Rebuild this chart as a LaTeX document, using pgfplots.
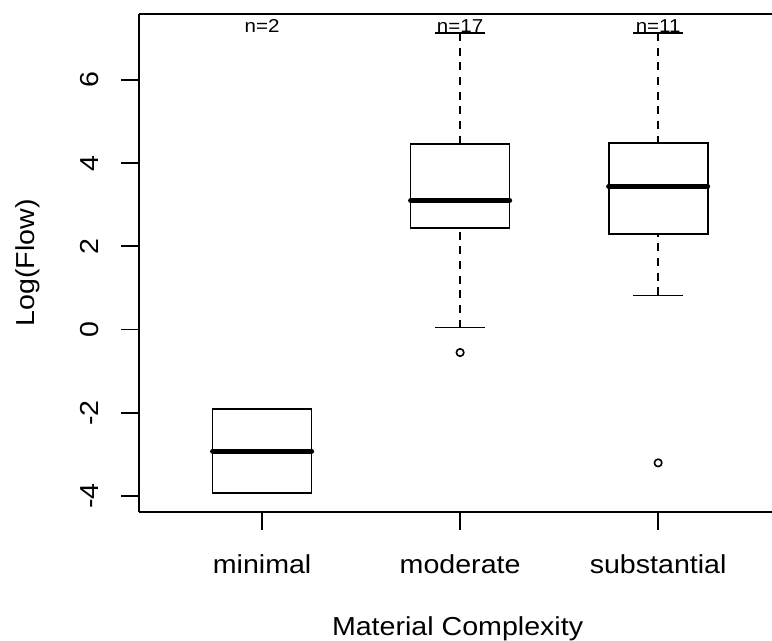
\documentclass[border=0pt]{standalone}
\usepackage{fontspec}
\setmainfont[FakeStretch=1.1]{Liberation Sans}
\usepackage{pgfplots}
\pgfplotsset{compat=1.18}
\usepgfplotslibrary{statistics}
\pgfplotsset{
  rbox/.style={black, line width=1.3pt, mark=o, mark size=2.8pt,
    mark options={solid, line width=1.2pt},
    boxplot/draw direction=y,
    boxplot/box extend=0.5, boxplot/whisker extend=0.25,
    boxplot/every box/.style={draw=black, line width=1.3pt},
    boxplot/every median/.style={draw=black, line width=3.8pt, line cap=round},
    boxplot/draw/lower whisker/.code={%
      \draw[line width=1.3pt, dash pattern=on 6pt off 5pt]
        (boxplot box cs:\pgfplotsboxplotvalue{lower whisker},0.5) --
        (boxplot box cs:\pgfplotsboxplotvalue{lower quartile},0.5);
      \draw[line width=1.3pt] (boxplot whisker cs:\pgfplotsboxplotvalue{lower whisker},0) --
        (boxplot whisker cs:\pgfplotsboxplotvalue{lower whisker},1);
    },
    boxplot/draw/upper whisker/.code={%
      \draw[line width=1.3pt, dash pattern=on 6pt off 5pt]
        (boxplot box cs:\pgfplotsboxplotvalue{upper whisker},0.5) --
        (boxplot box cs:\pgfplotsboxplotvalue{upper quartile},0.5);
      \draw[line width=1.3pt] (boxplot whisker cs:\pgfplotsboxplotvalue{upper whisker},0) --
        (boxplot whisker cs:\pgfplotsboxplotvalue{upper whisker},1);
    },
  },
}
\begin{document}
\begin{tikzpicture}
\begin{axis}[
  name=ax,
  scale only axis,
  width=474.5pt, height=373.5pt,
  xmin=0.38, xmax=3.575,
  ymin=-4.38, ymax=7.58,
  axis x line*=box, axis y line*=left,
  xtick={1,2,3}, xticklabels={minimal,moderate,substantial},
  ytick={-4,-2,0,2,4,6},
  tick align=outside, xtick pos=left, ytick pos=left,
  major tick length=13.5pt,
  every tick/.style={black, line width=1.3pt},
  axis line style={line width=1.3pt},
  tick label style={font=\fontsize{19.5}{22}\selectfont},
  /pgf/number format/assume math mode=true,
  xticklabel style={anchor=base},
  xticklabel shift=32.6pt,
  yticklabel style={rotate=90, anchor=base},
  yticklabel shift=17.25pt,
  xlabel={Material Complexity}, ylabel={Log(Flow)},
  label style={font=\fontsize{19.5}{22}\selectfont},
  xlabel style={at={(axis description cs:0.503,-0.2482)}, anchor=base},
  ylabel style={at={(axis description cs:-0.166,0.5)}, anchor=base},
]
\addplot[rbox, boxplot prepared={draw position=1,
  lower whisker=-3.93, lower quartile=-3.93, median=-2.92,
  upper quartile=-1.90, upper whisker=-1.90}] coordinates {};
\addplot[rbox, boxplot prepared={draw position=2,
  lower whisker=0.05, lower quartile=2.44, median=3.10,
  upper quartile=4.45, upper whisker=7.12}]
  table[row sep=\\, y index=0] {-0.55\\};
\addplot[rbox, boxplot prepared={draw position=3,
  lower whisker=0.82, lower quartile=2.29, median=3.44,
  upper quartile=4.49, upper whisker=7.12}]
  table[row sep=\\, y index=0] {-3.20\\};
\node[anchor=base, font=\fontsize{14}{16}\selectfont] at (axis cs:1,7.14) {n=2};
\node[anchor=base, font=\fontsize{14}{16}\selectfont] at (axis cs:2,7.14) {n=17};
\node[anchor=base, font=\fontsize{14}{16}\selectfont] at (axis cs:3,7.14) {n=11};
\end{axis}
\pgfresetboundingbox
\path[use as bounding box] ([shift={(-104.5pt,-96.75pt)}]ax.south west) rectangle ([yshift=10.5pt]ax.north east);
\end{tikzpicture}
\end{document}
